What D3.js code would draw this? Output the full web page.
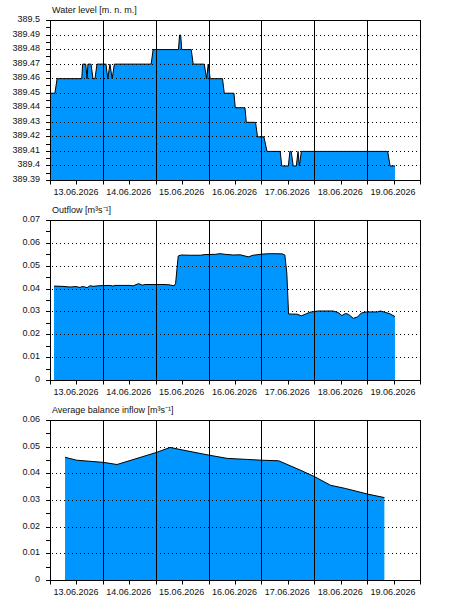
<!DOCTYPE html>
<html>
<head>
<meta charset="utf-8">
<script src="https://cdn.jsdelivr.net/npm/d3@7/dist/d3.min.js"></script>
<style>
  body { margin: 0; background: #fff; }
  text { font-family: "Liberation Sans", Arial, sans-serif; font-size: 9px; fill: #111; }
</style>
</head>
<body>
<script>
const width = 450;
const height = 610;

// x axis
const dayLabels = ['13.06.2026', '14.06.2026', '15.06.2026', '16.06.2026', '17.06.2026', '18.06.2026', '19.06.2026'];

// water level [m. n. m.]
const levelTicks = [389.39, 389.4, 389.41, 389.42, 389.43, 389.44, 389.45, 389.46, 389.47, 389.48, 389.49, 389.5];
const levelTimes = [
  '13.06.2026 00:00', '13.06.2026 02:00', '13.06.2026 03:00', '13.06.2026 14:12', '13.06.2026 14:36',
  '13.06.2026 16:00', '13.06.2026 16:36', '13.06.2026 17:00', '13.06.2026 18:24', '13.06.2026 19:18',
  '13.06.2026 20:12', '13.06.2026 21:06', '14.06.2026 01:12', '14.06.2026 02:00', '14.06.2026 03:00',
  '14.06.2026 04:00', '14.06.2026 05:00', '14.06.2026 21:42', '14.06.2026 22:36', '15.06.2026 10:06',
  '15.06.2026 10:36', '15.06.2026 11:06', '15.06.2026 11:36', '15.06.2026 15:54', '15.06.2026 16:48',
  '15.06.2026 21:48', '15.06.2026 22:54', '15.06.2026 23:36', '16.06.2026 00:30', '16.06.2026 06:06',
  '16.06.2026 06:54', '16.06.2026 11:18', '16.06.2026 11:54', '16.06.2026 16:18', '16.06.2026 16:54',
  '16.06.2026 21:06', '16.06.2026 22:00', '17.06.2026 00:54', '17.06.2026 02:18', '17.06.2026 08:18',
  '17.06.2026 09:00', '17.06.2026 12:00', '17.06.2026 12:42', '17.06.2026 13:18', '17.06.2026 14:12',
  '17.06.2026 15:36', '17.06.2026 16:24', '17.06.2026 17:00', '17.06.2026 17:54', '19.06.2026 09:06',
  '19.06.2026 10:12', '19.06.2026 12:24'
];
const levelValues = [
  389.45, 389.45, 389.46, 389.46, 389.47,
  389.47, 389.46, 389.47, 389.47, 389.46,
  389.46, 389.47, 389.47, 389.46, 389.47,
  389.46, 389.47, 389.47, 389.48, 389.48,
  389.49, 389.49, 389.48, 389.48, 389.47,
  389.47, 389.46, 389.47, 389.46, 389.46,
  389.45, 389.45, 389.44, 389.44, 389.43,
  389.43, 389.42, 389.42, 389.41, 389.41,
  389.40, 389.40, 389.41, 389.41, 389.40,
  389.40, 389.41, 389.40, 389.41, 389.41,
  389.40, 389.40
];

// outflow [m3/s]
const flowTicks = [0, 0.01, 0.02, 0.03, 0.04, 0.05, 0.06, 0.07];
const outflowTimes = [
  '13.06.2026 01:36', '13.06.2026 05:12', '13.06.2026 08:54', '13.06.2026 11:36', '13.06.2026 13:24',
  '13.06.2026 14:18', '13.06.2026 15:42', '13.06.2026 16:36', '13.06.2026 18:00', '13.06.2026 19:18',
  '13.06.2026 22:30', '14.06.2026 03:00', '14.06.2026 04:24', '14.06.2026 05:18', '14.06.2026 12:06',
  '14.06.2026 13:30', '14.06.2026 16:00', '14.06.2026 17:36', '14.06.2026 19:00', '15.06.2026 04:00',
  '15.06.2026 06:18', '15.06.2026 08:06', '15.06.2026 08:48', '15.06.2026 10:00', '15.06.2026 11:18',
  '15.06.2026 15:24', '15.06.2026 20:00', '15.06.2026 22:12', '16.06.2026 02:48', '16.06.2026 05:00',
  '16.06.2026 07:18', '16.06.2026 11:00', '16.06.2026 14:06', '16.06.2026 17:48', '16.06.2026 20:00',
  '17.06.2026 00:06', '17.06.2026 03:48', '17.06.2026 09:12', '17.06.2026 10:24', '17.06.2026 11:18',
  '17.06.2026 12:06', '17.06.2026 16:00', '17.06.2026 17:54', '17.06.2026 19:42', '17.06.2026 21:54',
  '18.06.2026 01:30', '18.06.2026 08:24', '18.06.2026 10:42', '18.06.2026 12:18', '18.06.2026 13:54',
  '18.06.2026 15:12', '18.06.2026 17:30', '18.06.2026 19:24', '18.06.2026 21:06', '18.06.2026 23:24',
  '19.06.2026 04:24', '19.06.2026 05:48', '19.06.2026 08:30', '19.06.2026 10:18', '19.06.2026 12:24'
];
const outflowValues = [
  0.0413, 0.0412, 0.0409, 0.0411, 0.0407,
  0.0411, 0.0409, 0.0406, 0.0415, 0.0412,
  0.0415, 0.0416, 0.0413, 0.0416, 0.0416,
  0.0414, 0.0424, 0.0417, 0.0420, 0.0420,
  0.0418, 0.0414, 0.0425, 0.0545, 0.0549,
  0.0548, 0.0548, 0.0551, 0.0552, 0.0555,
  0.0552, 0.0549, 0.0550, 0.0541, 0.0548,
  0.0553, 0.0555, 0.0554, 0.0549, 0.0470,
  0.0291, 0.0290, 0.0283, 0.0290, 0.0299,
  0.0304, 0.0304, 0.0297, 0.0284, 0.0293,
  0.0290, 0.0272, 0.0278, 0.0295, 0.0300,
  0.0300, 0.0304, 0.0297, 0.0291, 0.0280
];

// average balance inflow [m3/s]
const inflowTicks = [0, 0.01, 0.02, 0.03, 0.04, 0.05, 0.06];
const inflowTimes = [
  '13.06.2026 06:36', '13.06.2026 11:54', '14.06.2026 00:00', '14.06.2026 06:12', '15.06.2026 00:00',
  '15.06.2026 06:18', '15.06.2026 12:12', '16.06.2026 00:00', '16.06.2026 08:12', '16.06.2026 17:18',
  '17.06.2026 00:00', '17.06.2026 07:36', '17.06.2026 17:24', '18.06.2026 00:00', '18.06.2026 07:12',
  '18.06.2026 14:00', '19.06.2026 00:00', '19.06.2026 07:36'
];
const inflowValues = [
  0.0462, 0.0451, 0.0443, 0.0435, 0.0480,
  0.0499, 0.0489, 0.0470, 0.0458, 0.0454,
  0.0451, 0.0449, 0.0414, 0.0389, 0.0357,
  0.0345, 0.0324, 0.0311
];

const parse = d3.utcParse('%d.%m.%Y %H:%M');
const toRows = (times, values) => times.map((t, i) => ({ t: parse(t), v: values[i] }));

const svg = d3
  .select('body')
  .append('svg')
  .attr('width', width)
  .attr('height', height);

const x = d3
  .scaleUtc()
  .domain([parse('13.06.2026 00:00'), parse('20.06.2026 00:00')])
  .range([50.5, 420.5]);

const crisp = (v) => Math.floor(v) + 0.5;

function panel(top, title, ticks, rows) {
  const g = svg.append('g');
  const y = d3
    .scaleLinear()
    .domain([ticks[0], ticks[ticks.length - 1]])
    .range([top + 160.5, top + 0.5]);
  const bottom = y.range()[0];

  const area = d3
    .area()
    .x((d) => x(d.t))
    .y0(bottom)
    .y1((d) => y(d.v));
  const line = d3
    .line()
    .x((d) => x(d.t))
    .y((d) => y(d.v));

  g.append('path')
    .datum(rows)
    .attr('d', area)
    .attr('fill', '#0096ff');

  // dotted grid
  g.selectAll('.grid')
    .data(ticks.slice(1, -1))
    .enter()
    .append('line')
    .attr('x1', 52)
    .attr('x2', 420)
    .attr('y1', (d) => crisp(y(d)))
    .attr('y2', (d) => crisp(y(d)))
    .attr('stroke', '#000')
    .attr('stroke-dasharray', '1,3');

  // day lines
  const days = x.ticks(d3.utcDay.every(1)).slice(1, -1);
  g.selectAll('.day')
    .data(days)
    .enter()
    .append('line')
    .attr('x1', (d) => crisp(x(d)))
    .attr('x2', (d) => crisp(x(d)))
    .attr('y1', top)
    .attr('y2', bottom)
    .attr('stroke', '#000');

  g.append('path')
    .datum(rows)
    .attr('d', line)
    .attr('fill', 'none')
    .attr('stroke', '#000')
    .attr('stroke-width', 1);

  // frame
  g.append('rect')
    .attr('x', 50.5)
    .attr('y', top + 0.5)
    .attr('width', 370)
    .attr('height', 160)
    .attr('fill', 'none')
    .attr('stroke', '#000');

  // y ticks (with half steps)
  const step = ticks[1] - ticks[0];
  const minor = d3.range(0, (ticks.length - 1) * 2 + 1).map((k) => ticks[0] + (k * step) / 2);
  g.selectAll('.ytick')
    .data(minor)
    .enter()
    .append('line')
    .attr('x1', 46)
    .attr('x2', 50.5)
    .attr('y1', (d) => crisp(y(d)))
    .attr('y2', (d) => crisp(y(d)))
    .attr('stroke', '#000');

  g.selectAll('.ylabel')
    .data(ticks)
    .enter()
    .append('text')
    .attr('x', 40)
    .attr('y', (d) => y(d) + 1.5)
    .attr('text-anchor', 'end')
    .text((d) => String(+d.toFixed(2)));

  // x ticks every 12 hours
  g.selectAll('.xtick')
    .data(x.ticks(d3.utcHour.every(12)))
    .enter()
    .append('line')
    .attr('x1', (d) => crisp(x(d)))
    .attr('x2', (d) => crisp(x(d)))
    .attr('y1', bottom)
    .attr('y2', bottom + 4)
    .attr('stroke', '#000');

  g.selectAll('.xlabel')
    .data(dayLabels)
    .enter()
    .append('text')
    .attr('x', (d) => x(d3.utcHour.offset(parse(`${d} 00:00`), 12)) - 1)
    .attr('y', bottom + 14.5)
    .attr('text-anchor', 'middle')
    .text((d) => d);

  g.append('text')
    .attr('x', 52)
    .attr('y', top - 7)
    .text(title);
}

panel(20, 'Water level [m. n. m.]', levelTicks, toRows(levelTimes, levelValues));
panel(220, 'Outflow [m\u00b3s\u207b\u00b9]', flowTicks, toRows(outflowTimes, outflowValues));
panel(420, 'Average balance inflow [m\u00b3s\u207b\u00b9]', inflowTicks, toRows(inflowTimes, inflowValues));
</script>
</body>
</html>
